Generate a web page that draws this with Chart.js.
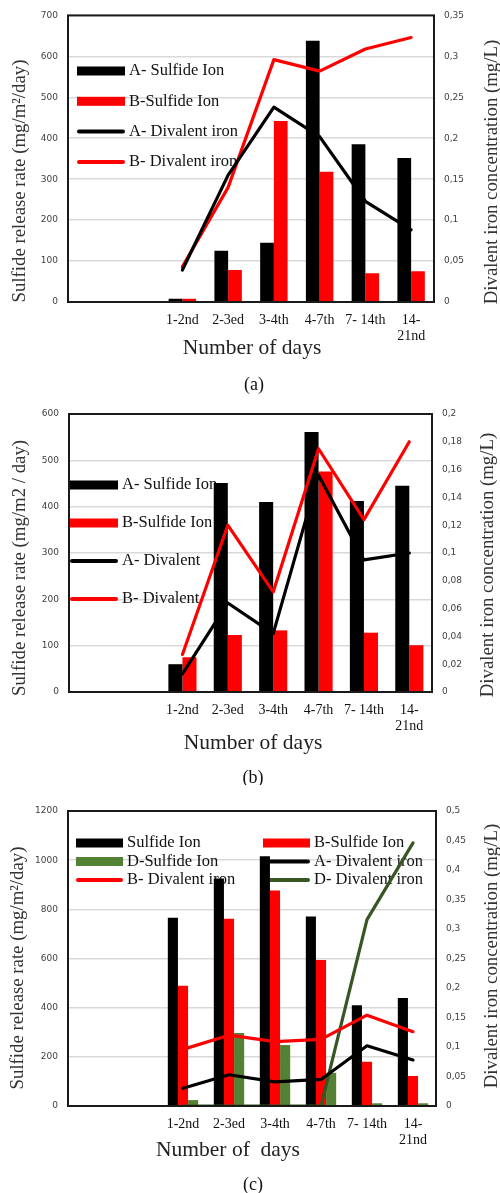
<!DOCTYPE html>
<html>
<head>
<meta charset="utf-8">
<script src="https://cdn.jsdelivr.net/npm/chart.js@4.4.1/dist/chart.umd.min.js"></script>
<style>
  body { margin: 0; background: #fff; }
  #wrap { position: relative; width: 500px; height: 1193px; }
  canvas { position: absolute; left: 0; }
</style>
</head>
<body>
<div id="wrap">
  <canvas id="chartA" width="500" height="395" style="top:0px"></canvas>
  <canvas id="chartB" width="500" height="390" style="top:395px"></canvas>
  <canvas id="chartC" width="500" height="408" style="top:785px"></canvas>
</div>
<script>
// categories (two empty slots on the left, as in the original)
const days = ['', '', '1-2nd', '2-3ed', '3-4th', '4-7th', '7- 14th', ['14-', '21nd']];

// (a)
const aSulfideA = [null, null, 8, 125, 145, 638, 385, 352];
const aSulfideB = [null, null, 8, 78, 442, 318, 70, 75];
const aIronA = [null, null, 0.039, 0.155, 0.238, 0.202, 0.123, 0.088];
const aIronB = [null, null, 0.043, 0.140, 0.296, 0.282, 0.309, 0.323];

// (b)
const bSulfideA = [null, null, 60, 451, 410, 561, 412, 445];
const bSulfideB = [null, null, 75, 123, 133, 476, 128, 101];
const bIronA = [null, null, 0.013, 0.064, 0.042, 0.156, 0.095, 0.100];
const bIronB = [null, null, 0.027, 0.120, 0.072, 0.175, 0.124, 0.180];

// (c)
const cSulfideA = [null, null, 766, 925, 1016, 771, 410, 439];
const cSulfideB = [null, null, 489, 762, 877, 594, 180, 122];
const cSulfideD = [null, null, 24, 297, 248, 135, 11, 11];
const cIronA = [null, null, 0.030, 0.053, 0.041, 0.045, 0.102, 0.078];
const cIronB = [null, null, 0.096, 0.120, 0.109, 0.113, 0.154, 0.126];
const cIronD = [null, null, 0, 0, 0, 0, 0.316, 0.446];

const SERIF = "'Liberation Serif', 'Times New Roman', serif";
const BLACK = '#000000';
const RED = '#ff0000';
const GREEN_BAR = '#548235';
const GREEN_LINE = '#375623';

// legend drawn inside the plot, under the data
const innerLegend = {
    id: 'innerLegend',
    beforeDatasetsDraw(chart, args, opts) {
        const ctx = chart.ctx;
        ctx.save();
        ctx.font = opts.font;
        ctx.textBaseline = 'middle';
        chart.data.datasets.forEach((ds, i) => {
            const col = i % opts.columns;
            const row = Math.floor(i / opts.columns);
            const x = opts.x + col * opts.colGap;
            const y = opts.y + row * opts.rowGap;
            if (ds.type === 'line') {
                ctx.strokeStyle = ds.borderColor;
                ctx.lineWidth = 4;
                ctx.lineCap = 'round';
                ctx.beginPath();
                ctx.moveTo(x + 2, y);
                ctx.lineTo(x + opts.boxWidth - 2, y);
                ctx.stroke();
            } else {
                ctx.fillStyle = ds.backgroundColor;
                ctx.fillRect(x, y - 4.5, opts.boxWidth, 9);
            }
            ctx.fillStyle = '#111';
            ctx.fillText(ds.label, x + opts.boxWidth + 4, y);
        });
        ctx.restore();
    }
};

// frame round the plot area
const plotFrame = {
    id: 'plotFrame',
    afterDatasetsDraw(chart) {
        const a = chart.chartArea;
        const ctx = chart.ctx;
        ctx.save();
        ctx.strokeStyle = '#1a1a1a';
        ctx.lineWidth = 2;
        ctx.strokeRect(a.left, a.top, a.right - a.left, a.bottom - a.top);
        ctx.restore();
    }
};

// axis titles and caption
const panelText = {
    id: 'panelText',
    afterDraw(chart, args, opts) {
        const ctx = chart.ctx;
        for (const t of opts.items) {
            ctx.save();
            ctx.font = t.font;
            ctx.fillStyle = t.color || '#222';
            ctx.textAlign = 'center';
            ctx.textBaseline = 'middle';
            ctx.translate(t.x, t.y);
            if (t.rotate) ctx.rotate(-Math.PI / 2);
            ctx.fillText(t.text, 0, 0);
            ctx.restore();
        }
    }
};

function commaTick(v) {
    return String(+v.toFixed(3)).replace('.', ',');
}

function plainTick(v) {
    return String(v);
}

function barSet(label, data, color) {
    return { type: 'bar', label: label, data: data, backgroundColor: color, borderWidth: 0, order: 1 };
}

function lineSet(label, data, color) {
    return {
        type: 'line', label: label, data: data, yAxisID: 'y2',
        borderColor: color, backgroundColor: color, borderWidth: 3.2,
        pointRadius: 0, tension: 0, borderCapStyle: 'round', borderJoinStyle: 'round', order: 0
    };
}

function makeChart(id, p) {
    const ctx = document.getElementById(id).getContext('2d');
    const h = ctx.canvas.height;
    return new Chart(ctx, {
        type: 'bar',
        data: { labels: days, datasets: p.datasets },
        options: {
            responsive: false,
            animation: false,
            layout: { padding: { top: p.top, left: 0, right: 0, bottom: 0 } },
            datasets: { bar: { categoryPercentage: p.catPct, barPercentage: 1 } },
            plugins: {
                legend: { display: false },
                tooltip: { enabled: false },
                innerLegend: p.legend,
                panelText: { items: p.texts }
            },
            scales: {
                x: {
                    offset: true,
                    grid: { display: false, drawTicks: false },
                    border: { display: false },
                    ticks: {
                        autoSkip: false, maxRotation: 0, padding: 11, color: '#111',
                        font: { family: SERIF, size: 14, lineHeight: 1.1 }
                    },
                    afterFit: s => { s.height = h - p.bottom; }
                },
                y: {
                    position: 'left', min: 0, max: p.yMax,
                    grid: { color: '#d9d9d9', lineWidth: 1.5, drawTicks: false },
                    border: { display: false },
                    ticks: { stepSize: p.yStep, padding: 10, color: '#404040', font: { family: 'DejaVu Sans', size: 9 }, callback: plainTick },
                    afterFit: s => { s.width = p.left; }
                },
                y2: {
                    position: 'right', min: 0, max: p.y2Max,
                    grid: { display: false, drawTicks: false },
                    border: { display: false },
                    ticks: { stepSize: p.y2Step, padding: 10, color: '#404040', font: { family: 'DejaVu Sans', size: 9 }, callback: commaTick },
                    afterFit: s => { s.width = 500 - p.right; }
                }
            }
        },
        plugins: [innerLegend, plotFrame, panelText]
    });
}

window.addEventListener('load', initialize);

function initialize() {
    makeChart('chartA', {
        top: 15, bottom: 302, left: 68, right: 434, catPct: 0.6,
        yMax: 700, yStep: 100, y2Max: 0.35, y2Step: 0.05,
        datasets: [
            barSet('A- Sulfide Ion', aSulfideA, BLACK),
            barSet('B-Sulfide Ion', aSulfideB, RED),
            lineSet('A- Divalent iron', aIronA, BLACK),
            lineSet('B- Divalent iron', aIronB, RED)
        ],
        legend: { x: 77, y: 71, columns: 1, colGap: 0, rowGap: 30.3, boxWidth: 48, font: '16.5px ' + SERIF },
        texts: [
            { text: 'Sulfide release rate (mg/m\u00b2/day)', x: 20, y: 181, rotate: true, font: '18.8px ' + SERIF, color: '#333' },
            { text: 'Divalent iron concentration (mg/L)', x: 492, y: 172, rotate: true, font: '18.8px ' + SERIF, color: '#333' },
            { text: 'Number of days', x: 252, y: 348, font: '21.5px ' + SERIF, color: '#222' },
            { text: '(a)', x: 254, y: 385, font: '18px ' + SERIF, color: '#111' }
        ]
    });

    makeChart('chartB', {
        top: 19, bottom: 297, left: 69, right: 432, catPct: 0.62,
        yMax: 600, yStep: 100, y2Max: 0.2, y2Step: 0.02,
        datasets: [
            barSet('A- Sulfide Ion', bSulfideA, BLACK),
            barSet('B-Sulfide Ion', bSulfideB, RED),
            lineSet('A- Divalent', bIronA, BLACK),
            lineSet('B- Divalent', bIronB, RED)
        ],
        legend: { x: 70, y: 90, columns: 1, colGap: 0, rowGap: 38, boxWidth: 48, font: '16.5px ' + SERIF },
        texts: [
            { text: 'Sulfide release rate (mg/m2 / day)', x: 20, y: 173, rotate: true, font: '18.8px ' + SERIF, color: '#333' },
            { text: 'Divalent iron concentration (mg/L)', x: 488, y: 170, rotate: true, font: '18.8px ' + SERIF, color: '#333' },
            { text: 'Number of days', x: 253, y: 348, font: '21.5px ' + SERIF, color: '#222' },
            { text: '(b)', x: 253, y: 383, font: '18px ' + SERIF, color: '#111' }
        ]
    });

    makeChart('chartC', {
        top: 26, bottom: 321, left: 68, right: 436, catPct: 0.66,
        yMax: 1200, yStep: 200, y2Max: 0.5, y2Step: 0.05,
        datasets: [
            barSet('Sulfide Ion', cSulfideA, BLACK),
            barSet('B-Sulfide Ion', cSulfideB, RED),
            barSet('D-Sulfide Ion', cSulfideD, GREEN_BAR),
            lineSet('A- Divalent iron', cIronA, BLACK),
            lineSet('B- Divalent iron', cIronB, RED),
            lineSet('D- Divalent iron', cIronD, GREEN_LINE)
        ],
        legend: { x: 76, y: 58, columns: 2, colGap: 187, rowGap: 18.5, boxWidth: 47, font: '16.5px ' + SERIF },
        texts: [
            { text: 'Sulfide release rate (mg/m\u00b2/day)', x: 18, y: 183, rotate: true, font: '18.8px ' + SERIF, color: '#333' },
            { text: 'Divalent iron concentration (mg/L)', x: 492, y: 171, rotate: true, font: '18.8px ' + SERIF, color: '#333' },
            { text: 'Number of  days', x: 228, y: 365, font: '21.5px ' + SERIF, color: '#222' },
            { text: '(c)', x: 253, y: 400, font: '18px ' + SERIF, color: '#111' }
        ]
    });
}
</script>
</body>
</html>
